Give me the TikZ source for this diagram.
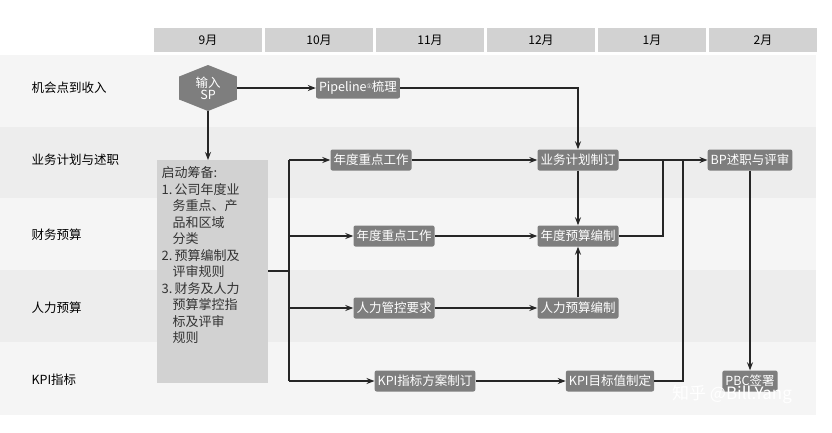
\documentclass[tikz,border=0pt]{standalone}
\usepackage{fontspec}
\setmainfont{Liberation Sans}
\newfontfamily\cjk{Noto Sans CJK SC}
\newfontfamily\sym{DejaVu Sans}
\usetikzlibrary{shapes.geometric,positioning,arrows.meta}
\definecolor{boxgray}{HTML}{7E7E7E}
\definecolor{bandA}{HTML}{EDEDED}
\definecolor{bandB}{HTML}{F5F5F5}
\definecolor{headgray}{HTML}{D2D2D2}
\begin{document}
\begin{tikzpicture}[x=1pt,y=-1pt,font=\cjk\fontsize{12}{14}\selectfont]
  \tikzstyle{step box}=[rectangle,rounded corners=2pt,fill=boxgray,text=white,minimum height=21pt,inner sep=3pt,font=\cjk\fontsize{12.5}{14}\selectfont]
  \tikzstyle{head}=[rectangle,fill=headgray,minimum width=108pt,minimum height=24pt,inner sep=0pt]
  \tikzstyle{lane}=[anchor=west,font=\cjk\fontsize{12.5}{14}\selectfont]
  \tikzstyle{flow}=[line width=1.2pt,-{Stealth[length=8pt,width=6pt]},draw=black!85]
  \tikzstyle{wire}=[line width=1.2pt,draw=black!85]

  \useasboundingbox (0,0) rectangle (832,432);
  \fill[white] (0,0) rectangle (832,432);

  % bands
  \fill[bandB] (0,55) rectangle (816,127);
  \fill[bandA] (0,127) rectangle (816,198);
  \fill[bandB] (0,198) rectangle (816,270);
  \fill[bandA] (0,270) rectangle (816,342);
  \fill[bandB] (0,342) rectangle (816,415);

  % months
  \foreach \m [count=\i from 0] in {9月,10月,11月,12月,1月,2月}
    \node[head] (m\i) at (208+\i*111,40) {\m};

  % lanes
  \node[lane] (l1) at (28,88) {机会点到收入};
  \node[lane] (l2) at (28,160) {业务计划与述职};
  \node[lane] (l3) at (28,235) {财务预算};
  \node[lane] (l4) at (28,308) {人力预算};
  \node[lane] (l5) at (28,380) {KPI指标};

  \node[regular polygon,regular polygon sides=6,shape border rotate=90,fill=boxgray,minimum width=46pt,inner sep=0pt,xscale=1.45] (sp) at (208,88) {};
  \node[text=white,align=center,font=\cjk\fontsize{12.5}{12}\selectfont] at (sp) {输入\\SP};
  \node[step box] (pipe) at (358,88) {Pipeline\raisebox{3pt}{\sym\fontsize{6}{6}\selectfont ①}梳理};

  \node[rectangle,fill=headgray,minimum width=111pt,minimum height=223pt,anchor=north west,inner sep=0pt] (prep) at (157,160) {};
  \node[anchor=north west,align=left,text width=110pt,font=\cjk\fontsize{13}{16.5}\selectfont,text=black!80] at (158,163)
    {启动筹备:\\
     1.\,公司年度业\\\hspace*{11pt}务重点、产\\\hspace*{11pt}品和区域\\\hspace*{11pt}分类\\
     2.\,预算编制及\\\hspace*{11pt}评审规则\\
     3.\,财务及人力\\\hspace*{11pt}预算掌控指\\\hspace*{11pt}标及评审\\\hspace*{11pt}规则};

  \node[step box] (key1) at (371,160) {年度重点工作};
  \node[step box] (key2) at (394,236) {年度重点工作};
  \node[step box] (hrreq) at (394,308) {人力管控要求};
  \node[step box] (kpiplan) at (425,381) {KPI指标方案制订};
  \node[step box] (plan) at (578,160) {业务计划制订};
  \node[step box] (budget) at (578,236) {年度预算编制};
  \node[step box] (hrbud) at (578,308) {人力预算编制};
  \node[step box] (kpival) at (610,381) {KPI目标值制定};
  \node[step box] (bp) at (750,160) {BP述职与评审};
  \node[step box] (pbc) at (750,381) {PBC签署};

  \coordinate (fork) at (289,271);
  \draw[flow] (sp) -- (pipe);
  \draw[flow] (pipe) -| (plan);
  \draw[flow] (sp) -- (prep.north -| sp);
  \draw[wire] (prep.east |- fork) -- (fork);
  \draw[wire] (fork |- key1) -- (fork |- kpiplan);
  \foreach \n in {key1,key2,hrreq,kpiplan}
    \draw[flow] (fork |- \n) -- (\n);
  \draw[flow] (key1) -- (plan);
  \draw[flow] (key2) -- (budget);
  \draw[flow] (hrreq) -- (hrbud);
  \draw[flow] (kpiplan) -- (kpival);
  \draw[flow] (plan) -- (budget);
  \draw[flow] (hrbud) -- (budget);
  \draw[flow] (plan) -- (bp);
  \draw[wire] (budget) -| (663,160);
  \draw[wire] (kpival) -| (683,160);
  \draw[flow] (bp) -- (pbc);

  \node[text=white,font=\cjk\fontsize{17}{18}\selectfont] (mark) at (732,394) {知乎 @Bill.Yang};
\end{tikzpicture}
\end{document}
